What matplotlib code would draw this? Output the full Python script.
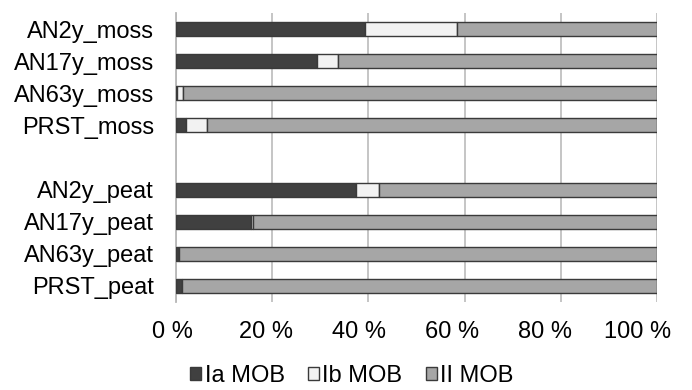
import matplotlib.pyplot as plt
import numpy as np
from matplotlib.transforms import ScaledTranslation

plt.rcParams.update({"font.family": ["Liberation Sans", "DejaVu Sans"],
                     "font.size": 17})

# top to bottom, "" = empty spacer row
samples = ["AN2y_moss", "AN17y_moss", "AN63y_moss", "PRST_moss", "",
           "AN2y_peat", "AN17y_peat", "AN63y_peat", "PRST_peat"]
ia_mob = [39.3, 29.4, 0.2, 2.1, 0, 37.4, 15.6, 0.7, 1.3]
ib_mob = [19.2, 4.2, 1.2, 4.3, 0, 4.8, 0.5, 0.0, 0.0]
ii_mob = [41.5, 66.4, 98.6, 93.6, 0, 57.8, 83.9, 99.3, 98.7]
series = [("Ia MOB", ia_mob, "#404040"),
          ("Ib MOB", ib_mob, "#f2f2f2"),
          ("II MOB", ii_mob, "#a6a6a6")]
xticks = [0, 20, 40, 60, 80, 100]


def plot_bars():
    fig = plt.figure(figsize=(6.92, 3.90), dpi=100)
    ax = fig.add_axes([176/692, 1 - 302/390, (657-176)/692, (302-13)/390])
    y = np.arange(len(samples))
    filled = np.array([s != "" for s in samples])
    left = np.zeros(len(samples))
    for name, vals, col in series:
        vals = np.array(vals, dtype=float)
        ax.barh(y[filled], vals[filled], left=left[filled], height=0.44,
                color=col, edgecolor="#3a3a3a", linewidth=1.0, label=name,
                zorder=3)
        left += vals

    ax.set_ylim(len(samples) - 0.5, -0.5)
    ax.set_xlim(0, 100)
    ax.set_yticks(y)
    ax.set_yticklabels(samples)
    ax.set_xticks(xticks)
    ax.set_xticklabels([f"{v} %" for v in xticks])
    ax.grid(axis='x', color="#c0c0c0", lw=1.3, zorder=0)
    for s in ("top", "right", "bottom"):
        ax.spines[s].set_visible(False)
    ax.spines["left"].set_color("#b8b8b8")
    ax.spines["left"].set_linewidth(1.3)
    ax.tick_params(axis='y', length=0, pad=16)
    ax.tick_params(axis='x', length=0, pad=14)
    # the labels drift slightly left of the gridlines in the original
    for i, lab in enumerate(ax.get_xticklabels()):
        shift = (-3.5 - 3.1 * i) / 100
        lab.set_transform(lab.get_transform()
                          + ScaledTranslation(shift, 0, fig.dpi_scale_trans))

    fig.legend(loc="center", bbox_to_anchor=(352/692, 1 - 376/390), ncol=3,
               frameon=False, handlelength=0.45, handleheight=0.45,
               handletextpad=0.15, columnspacing=1.0)
    fig.savefig("out.png", dpi=100)
    plt.close()


if __name__ == '__main__':
    plot_bars()
